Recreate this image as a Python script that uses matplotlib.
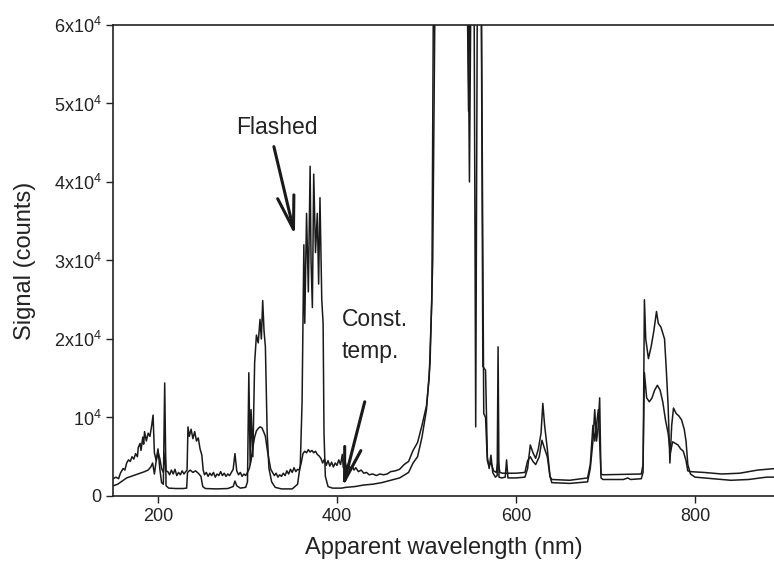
import numpy as np
import matplotlib
matplotlib.use("Agg")
import matplotlib.pyplot as plt

plt.rcParams['font.family'] = ['Liberation Sans', 'DejaVu Sans']
plt.rcParams['mathtext.default'] = 'regular'

# flashed lamp spectrum (low background, strong lines)
wl_flashed = [150, 155, 160, 165, 170, 175, 180, 185, 189, 192, 194, 196, 198, 200, 202, 204, 206, 207.5, 209,
              212, 220, 228, 232, 233, 236, 239, 242, 245, 248, 250, 253, 265, 278, 284, 286, 288, 292, 298,
              300, 301.5, 303, 304, 306, 308, 310, 312, 314, 315.5, 317, 318.5, 320, 322, 324, 327, 331, 338,
              350, 356, 359, 361, 363, 364, 366, 368, 370, 371, 372.5, 374, 376, 378, 379.5, 381, 383, 384.5,
              385.5, 387, 390, 395, 400, 405, 410, 420, 430, 440, 450, 460, 470, 480, 485, 490, 495, 500, 504,
              507, 510, 546, 548, 550, 553, 555, 557, 561, 563, 566, 568, 570, 572, 574, 577, 579, 580, 581,
              584, 588, 589.5, 591, 600, 610, 613, 616, 619, 622, 625, 628, 630, 632, 635, 638, 640, 660, 680,
              683, 686, 688, 690, 692, 693.5, 695, 697, 720, 725, 728, 740, 742, 743.5, 745, 748, 751, 754,
              757, 759, 762, 766, 768, 770, 772, 774, 776, 779, 782, 785, 788, 790, 792, 795, 800, 820, 840,
              860, 880, 890]
sig_flashed = [1300, 1500, 1900, 2300, 2500, 2700, 2900, 3100, 3300, 3700, 4200, 2800, 4500, 6000, 3500, 1700, 1500, 14400, 1300,
               1000, 950, 950, 1000, 3000, 3300, 3000, 3200, 2900, 2500, 1200, 950, 900, 950, 1200, 1900, 1300, 1000, 1100,
               1800, 15700, 4000, 11000, 5000, 17000, 20500, 19500, 22500, 20000, 24900, 21000, 19000, 8000, 3500, 1800, 1100, 900,
               900, 1500, 4000, 12000, 32000, 22000, 36000, 26000, 42000, 30000, 24000, 41000, 31000, 36000, 27000, 38000, 25000, 22000,
               8000, 2500, 1200, 1000, 1000, 1000, 1100, 1200, 1400, 1500, 1700, 2000, 2300, 3000, 4200, 5000, 7500, 11000, 17000,
               30000, 70000, 70000, 40000, 70000, 70000, 8800, 70000, 70000, 16500, 16000, 5000, 3500, 5200, 3000, 2400, 2600, 19000, 2400,
               2300, 2400, 4600, 2300, 2300, 2400, 3500, 6500, 5500, 4800, 6000, 8000, 11800, 9000, 6000, 2500, 1700, 1600, 1800,
               3500, 7000, 11000, 7000, 9000, 12500, 2300, 2100, 2100, 2300, 2100, 2200, 3000, 25000, 20000, 17500, 19000, 21000,
               23500, 22000, 21500, 20000, 16000, 11500, 4200, 9000, 11200, 10500, 10200, 9700, 8500, 7000, 4000, 2800, 2400, 2200, 2000,
               2100, 2400, 2400]

# constant temperature spectrum (higher, noisier background)
wl_const = [150, 153, 156, 158, 161, 163, 165, 167, 169, 171, 173, 175, 177, 178, 180, 181, 183, 184, 185, 187, 189,
            191, 193, 194.5, 196, 198, 200, 202, 204, 206, 208, 209, 211, 213, 215, 217, 219, 221, 223, 225, 227,
            229, 231, 232.5, 233.5, 235, 237, 239, 241, 243, 245, 247, 249, 250.5, 252, 254, 256, 258, 260, 262,
            264, 266, 268, 270, 272, 274, 276, 278, 280, 282, 284, 286, 288, 290, 292, 294, 296, 298, 300, 302,
            304, 306, 308, 310, 312, 314, 316, 318, 320, 322, 324, 326, 328, 330, 332, 334, 336, 338, 340, 342,
            344, 346, 348, 350, 352, 354, 356, 358, 360, 362, 364, 366, 368, 370, 372, 374, 376, 378, 380, 382,
            384, 386, 388, 390, 392, 394, 396, 398, 400, 402, 404, 406, 407, 409, 411, 413, 415, 417, 419, 421,
            424, 427, 430, 433, 436, 440, 444, 448, 452, 456, 460, 465, 470, 475, 480, 485, 490, 495, 500, 503,
            506, 508, 545, 547, 549, 561, 564, 566, 568, 570, 572, 575, 578, 580, 582, 585, 590, 600, 610, 613,
            616, 619, 622, 626, 629, 632, 635, 638, 640, 660, 680, 683, 686, 688, 690, 692, 693.5, 695, 697, 740,
            742, 743.5, 746, 749, 752, 755, 758, 761, 764, 767, 770, 772.5, 775, 778, 781, 784, 787, 790, 792,
            795, 810, 830, 850, 870, 890]
sig_const = [2200, 2400, 2200, 2900, 3500, 3300, 4200, 4600, 4400, 5000, 4700, 5400, 5000, 6200, 6700, 5800, 7500, 6600, 8200, 7000, 8000,
             7600, 9000, 10300, 5500, 4500, 5600, 4800, 3500, 3000, 5500, 3200, 3100, 2700, 3300, 2800, 3400, 2600, 3000, 2700, 3200,
             2800, 3100, 3300, 8800, 7600, 8500, 7300, 8200, 7000, 7400, 6000, 5200, 3300, 2700, 3000, 2500, 2900, 2600, 3000,
             2400, 2800, 2600, 3100, 2600, 2900, 2500, 2800, 2600, 3000, 3400, 5400, 3200, 2700, 3000, 2500, 2800, 2600, 3000, 3500,
             4500, 6200, 7500, 8300, 8600, 8800, 8700, 8200, 7600, 6000, 4600, 3400, 3000, 2600, 2900, 2400, 2700, 2500, 2900, 2600,
             3200, 2800, 3400, 3000, 3600, 3100, 3400, 3300, 4200, 5400, 5700, 5500, 5900, 5600, 5800, 5500, 5700, 5300, 5100, 4800,
             4200, 4700, 3900, 4500, 3800, 4300, 3700, 4200, 3900, 4600, 4000, 5300, 3600, 4400, 3500, 4100, 3400, 3800, 3300, 3600,
             3100, 3300, 2900, 3000, 2700, 2800, 2600, 2800, 2700, 2800, 3100, 3200, 3400, 4000, 4400, 5800, 6800, 9000, 11500, 15000,
             25000, 70000, 70000, 49000, 70000, 70000, 10500, 10000, 4500, 3800, 4300, 3200, 3000, 4500, 3000, 2900, 2900, 2900, 3000, 4500,
             5000, 4400, 4000, 5000, 7100, 6000, 5000, 2500, 2100, 2000, 2300, 4000, 9000, 7000, 9000, 11000, 7000, 2800, 2700, 2800,
             4000, 15700, 12500, 12000, 12500, 13500, 14100, 13500, 12000, 9700, 8000, 5500, 6900, 6700, 6500, 6000, 5700, 4500, 3200,
             3100, 3000, 2800, 2900, 3300, 3500]

ytick_vals = [0, 10000, 20000, 30000, 40000, 50000, 60000]
ytick_labels = ['0', '10$^4$', '2x10$^4$', '3x10$^4$', '4x10$^4$', '5x10$^4$', '6x10$^4$']
xtick_vals = [200, 400, 600, 800]

fig = plt.figure(figsize=(7.74, 5.61), dpi=100)
ax = fig.add_axes([0.1463, 0.1159, 0.8537, 0.8396])

ax.plot(wl_const, sig_const, color='#1a1a1a', lw=1.1)
ax.plot(wl_flashed, sig_flashed, color='#1a1a1a', lw=1.1)

ax.set_xlim(150, 888.3)
ax.set_ylim(0, 60000)
ax.set_yticks(ytick_vals)
ax.set_yticklabels(ytick_labels)
ax.set_xticks(xtick_vals)
ax.tick_params(direction='out', length=5, width=1, labelsize=13, colors='#222222')

ax.spines['right'].set_visible(False)
for s in ['left', 'bottom', 'top']:
    ax.spines[s].set_linewidth(1.2)
    ax.spines[s].set_color('#222222')

ax.set_xlabel('Apparent wavelength (nm)', fontsize=17, color='#222222', labelpad=9)
ax.set_ylabel('Signal (counts)', fontsize=17, color='#222222', labelpad=13)

arrow = dict(arrowstyle='->,head_length=2.4,head_width=0.6', lw=2.2, color='#1a1a1a',
             shrinkA=0, shrinkB=0)
ax.text(333, 46900, 'Flashed', fontsize=16.5, ha='center', va='center', color='#222222')
ax.annotate('', xy=(353, 33200), xytext=(329.5, 44500), arrowprops=arrow)

ax.text(405, 20500, 'Const.\ntemp.', fontsize=16.5, ha='left', va='center',
        color='#222222', linespacing=1.5)
ax.annotate('', xy=(406.7, 1150), xytext=(431, 12000), arrowprops=arrow)

fig.savefig('out.png', dpi=100)
